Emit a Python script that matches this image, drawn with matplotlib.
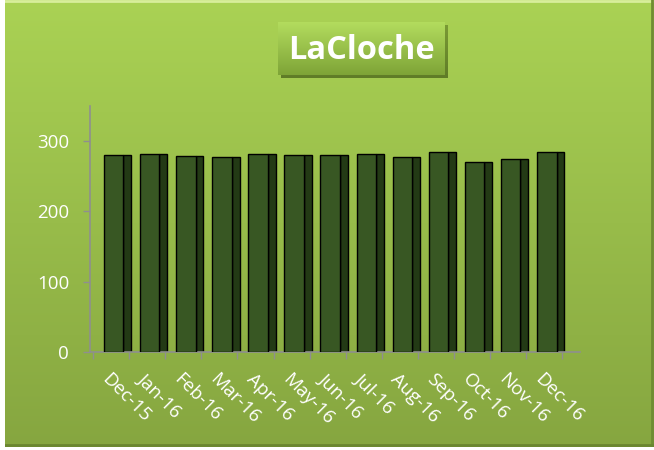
import matplotlib.pyplot as plt
import matplotlib.colors as mcolors
import numpy as np

months = ['Dec-15', 'Jan-16', 'Feb-16', 'Mar-16', 'Apr-16', 'May-16', 'Jun-16',
          'Jul-16', 'Aug-16', 'Sep-16', 'Oct-16', 'Nov-16', 'Dec-16']
values = [280, 282, 279, 277, 282, 280, 280, 281, 277, 285, 271, 275, 285]
y_ticks = [0, 100, 200, 300]
title = 'LaCloche'

plt.rcParams['font.family'] = ['Open Sans', 'DejaVu Sans']

W, H = 654, 450
fig = plt.figure(figsize=(W / 100, H / 100), dpi=100)
fig.patch.set_facecolor('white')


def gradient(ax, top, bottom):
    c1 = np.array(mcolors.to_rgb(top))
    c2 = np.array(mcolors.to_rgb(bottom))
    t = np.linspace(0, 1, 256)[:, None, None]
    img = c1 * (1 - t) + c2 * t
    img = np.repeat(img, 2, axis=1)
    ax.imshow(img, aspect='auto', extent=[0, 1, 0, 1], interpolation='bilinear')
    ax.set_xlim(0, 1)
    ax.set_ylim(0, 1)
    ax.axis('off')


# chart area background with bevel
bg = fig.add_axes([5 / W, 3 / H, 649 / W, 447 / H], zorder=0)
gradient(bg, '#aad254', '#86a640')
bg.plot([0, 1], [0.997, 0.997], color='#d8ee9a', lw=2, transform=bg.transAxes)
bg.plot([0.997, 0.997], [0, 1], color='#6f8c32', lw=2, transform=bg.transAxes)
bg.plot([0, 1], [0.004, 0.004], color='#6a8630', lw=2, transform=bg.transAxes)

# main plot
ax = fig.add_axes([90 / W, 98 / H, 490 / W, 246 / H], zorder=2)
ax.patch.set_alpha(0)
x = np.arange(len(months))
front_w = 0.54
side_w = 0.22
shift = 0.07
ax.bar(x + shift, values, width=front_w, color='#385723', edgecolor='black',
       linewidth=1.0, zorder=3)
ax.bar(x + shift + front_w / 2 + side_w / 2, values, width=side_w,
       color='#233a15', edgecolor='black', linewidth=1.0, zorder=2)

ax.set_xlim(-0.583, 12.99)
ax.set_ylim(0, 350)
ax.set_yticks(y_ticks)
ax.set_xticks(x, months, rotation=-45, ha='left', va='top',
              rotation_mode='anchor')
ax.set_xticks(np.arange(-0.5, len(months)), minor=True)
ax.tick_params(axis='x', which='major', length=0, pad=13, labelsize=13.5,
               labelcolor='white')
ax.tick_params(axis='x', which='minor', length=5, color='#8f8f8f', width=1)
ax.tick_params(axis='y', length=5, color='#8f8f8f', width=1, pad=10,
               labelsize=13.5, labelcolor='white')
for s in ['top', 'right']:
    ax.spines[s].set_visible(False)
for s in ['left', 'bottom']:
    ax.spines[s].set_color('#8f8f8f')
    ax.spines[s].set_linewidth(1.2)

# title box
shadow = fig.add_axes([281 / W, (H - 78) / H, 167 / W, 53 / H], zorder=3)
gradient(shadow, '#7a9a35', '#5f7c27')
tb = fig.add_axes([278 / W, (H - 75) / H, 167 / W, 53 / H], zorder=4)
gradient(tb, '#b3dc5e', '#7ea437')
tb.text(0.5, 0.47, title, color='white', fontsize=23.5, fontweight='bold',
        ha='center', va='center', transform=tb.transAxes)

fig.savefig('out.png', dpi=100, facecolor=fig.get_facecolor())
